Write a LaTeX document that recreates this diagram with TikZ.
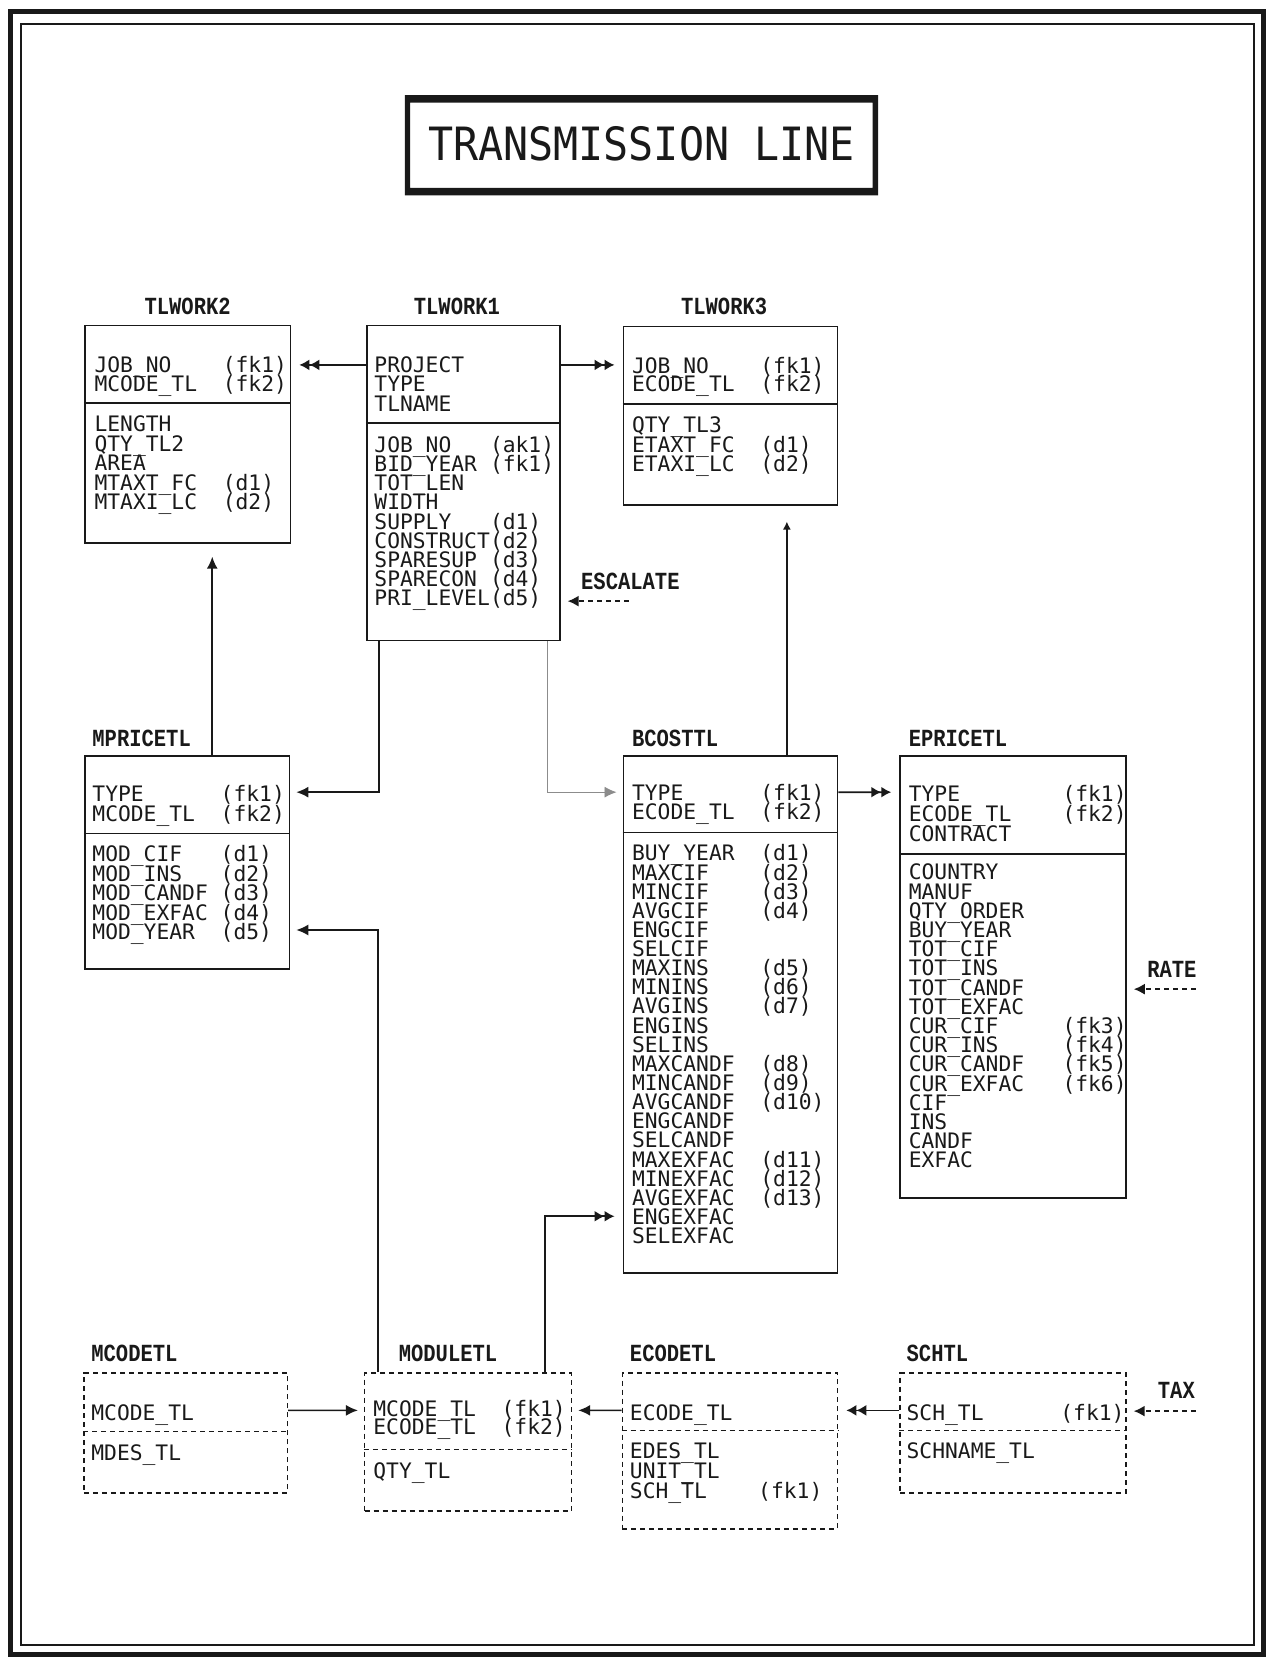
\documentclass[tikz,border=0pt]{standalone}
\usepackage{fontspec}
\usepackage{graphicx}
\usetikzlibrary{arrows.meta,calc,fit}
\newfontfamily\rowfnt{DejaVu Sans Mono}
\newfontfamily\lblfnt{Liberation Mono}
\colorlet{ink}{black!90}
\newcommand\fieldrows[6]{%
  \foreach \nm/\tg [count=\i from 0] in {#6}{%
    \node[rowtxt] (#1n\i) at (#2,{#4+\i*#5}) {\nm};
    \node[rowtxt] (#1t\i) at (#3,{#4+\i*#5}) {\tg};
  }}
\begin{document}
\begin{tikzpicture}[x=1.0602pt,y=-1.0602pt,
  ebox/.style={draw=ink, line width=1.7pt, inner sep=0pt},
  dbox/.style={draw=ink, line width=1.5pt, dash pattern=on 5pt off 4pt, inner sep=0pt},
  rowtxt/.style={anchor=base west, inner sep=0pt, text=ink, font=\rowfnt\fontsize{21.3}{21}\selectfont},
  lbl/.style={inner sep=0pt, anchor=base west, text=ink, font=\lblfnt\bfseries\fontsize{20.5}{20}\selectfont},
  conn/.style={draw=ink, line width=1.7pt},
  one/.style={conn, -{Latex[length=12pt,width=11pt]}, shorten >=6pt},
  two/.style={conn, -{Latex[length=10pt,width=11pt] Latex[length=10pt,width=11pt]}, shorten >=8pt},
  up/.style={conn, -{Latex[length=12pt,width=11pt]}, shorten >=13pt},
  ext/.style={conn, dash pattern=on 5pt off 4pt, -{Latex[length=11pt,width=11pt]}, shorten >=7pt}
]
\useasboundingbox (0,0) rectangle (1196,1568.6);
% frame
\draw[ink, line width=5pt] (10,11) rectangle (1192,1561);
\draw[ink, line width=2pt] (20,23) rectangle (1183,1552);
% title
\node[fit={(382,90) (828,184)}, inner sep=0pt] (tbox) {};
\fill[ink, even odd rule] (tbox.north west) rectangle (tbox.south east)
  ($(tbox.north west)+(5,7)$) rectangle ($(tbox.south east)+(-5,-7)$);
\node[inner sep=0pt, text=ink, font=\rowfnt\fontsize{41.7}{42}\selectfont] (title) at (605,136) {\scalebox{1}[1.1]{TRANSMISSION LINE}};

% boxes
\node[ebox, fit={(80,307) (274,512)}] (tlw2) {};
\node[ebox, fit={(346,307) (528,604)}] (tlw1) {};
\node[ebox, fit={(588,308) (790,476)}] (tlw3) {};
\node[ebox, fit={(80,713) (273,914)}] (mpr) {};
\node[ebox, fit={(588,713) (790,1201)}] (bco) {};
\node[ebox, fit={(849,713) (1062,1130)}] (epr) {};
\node[dbox, fit={(79,1295) (271,1408)}] (mcd) {};
\node[dbox, fit={(344,1295) (539,1425)}] (mod) {};
\node[dbox, fit={(587,1295) (790,1442)}] (ecd) {};
\node[dbox, fit={(849,1295) (1062,1408)}] (sch) {};

% dividers
\draw[ink, line width=1.7pt] ($(tlw2.north west)+(0,74)$) -- ($(tlw2.north east)+(0,74)$);
\draw[ink, line width=1.7pt] ($(tlw1.north west)+(0,93)$) -- ($(tlw1.north east)+(0,93)$);
\draw[ink, line width=1.7pt] ($(tlw3.north west)+(0,74)$) -- ($(tlw3.north east)+(0,74)$);
\draw[ink, line width=1.7pt] ($(mpr.north west)+(0,74)$) -- ($(mpr.north east)+(0,74)$);
\draw[ink, line width=1.7pt] ($(bco.north west)+(0,73)$) -- ($(bco.north east)+(0,73)$);
\draw[ink, line width=1.7pt] ($(epr.north west)+(0,93)$) -- ($(epr.north east)+(0,93)$);
\draw[ink, line width=1.5pt, dash pattern=on 5pt off 4pt] ($(mcd.north west)+(0,56)$) -- ($(mcd.north east)+(0,56)$);
\draw[ink, line width=1.5pt, dash pattern=on 5pt off 4pt] ($(mod.north west)+(0,73)$) -- ($(mod.north east)+(0,73)$);
\draw[ink, line width=1.5pt, dash pattern=on 5pt off 4pt] ($(ecd.north west)+(0,55)$) -- ($(ecd.north east)+(0,55)$);
\draw[ink, line width=1.5pt, dash pattern=on 5pt off 4pt] ($(sch.north west)+(0,55)$) -- ($(sch.north east)+(0,55)$);

% labels
\node[lbl, anchor=base] (ltlw2) at (177,297) {\scalebox{1}[1.2]{TLWORK2}};
\node[lbl, anchor=base] (ltlw1) at (431,297) {\scalebox{1}[1.2]{TLWORK1}};
\node[lbl, anchor=base] (ltlw3) at (683,297) {\scalebox{1}[1.2]{TLWORK3}};
\node[lbl] (lmpr) at (87,704) {\scalebox{1}[1.2]{MPRICETL}};
\node[lbl] (lbco) at (596,704) {\scalebox{1}[1.2]{BCOSTTL}};
\node[lbl] (lepr) at (857,704) {\scalebox{1}[1.2]{EPRICETL}};
\node[lbl] (lmcd) at (86,1284) {\scalebox{1}[1.2]{MCODETL}};
\node[lbl] (lmod) at (376,1284) {\scalebox{1}[1.2]{MODULETL}};
\node[lbl] (lecd) at (594,1284) {\scalebox{1}[1.2]{ECODETL}};
\node[lbl] (lsch) at (855,1284) {\scalebox{1}[1.2]{SCHTL}};
\node[lbl] (lesc) at (548,556) {\scalebox{1}[1.2]{ESCALATE}};
\node[lbl] (lrate) at (1082,922) {\scalebox{1}[1.2]{RATE}};
\node[lbl] (ltax) at (1092,1319) {\scalebox{1}[1.2]{TAX}};

% rows
\fieldrows{wa}{89}{210}{351}{18}{JOB\_NO/(fk1), MCODE\_TL/(fk2)}
\fieldrows{wb}{89}{210}{407}{18.5}{LENGTH/{}, QTY\_TL2/{}, AREA/{}, MTAXT\_FC/(d1), MTAXI\_LC/(d2)}
\fieldrows{va}{353}{462}{351}{18.5}{PROJECT/{}, TYPE/{}, TLNAME/{}}
\fieldrows{vb}{353}{462}{427}{18}{JOB\_NO/(ak1), BID\_YEAR/(fk1), TOT\_LEN/{}, WIDTH/{}, SUPPLY/(d1), CONSTRUCT/(d2), SPARESUP/(d3), SPARECON/(d4), PRI\_LEVEL/(d5)}
\fieldrows{ua}{596}{717}{352}{17.5}{JOB\_NO/(fk1), ECODE\_TL/(fk2)}
\fieldrows{ub}{596}{717}{408}{18.5}{QTY\_TL3/{}, ETAXT\_FC/(d1), ETAXI\_LC/(d2)}
\fieldrows{pa}{87}{208}{756}{18.5}{TYPE/(fk1), MCODE\_TL/(fk2)}
\fieldrows{pb}{87}{208}{813}{18.4}{MOD\_CIF/(d1), MOD\_INS/(d2), MOD\_CANDF/(d3), MOD\_EXFAC/(d4), MOD\_YEAR/(d5)}
\fieldrows{ba}{596}{717}{755}{18}{TYPE/(fk1), ECODE\_TL/(fk2)}
\fieldrows{bb}{596}{717}{812}{18.05}{BUY\_YEAR/(d1), MAXCIF/(d2), MINCIF/(d3), AVGCIF/(d4), ENGCIF/{}, SELCIF/{}, MAXINS/(d5), MININS/(d6), AVGINS/(d7), ENGINS/{}, SELINS/{}, MAXCANDF/(d8), MINCANDF/(d9), AVGCANDF/(d10), ENGCANDF/{}, SELCANDF/{}, MAXEXFAC/(d11), MINEXFAC/(d12), AVGEXFAC/(d13), ENGEXFAC/{}, SELEXFAC/{}}
\fieldrows{ea}{857}{1002}{756}{19}{TYPE/(fk1), ECODE\_TL/(fk2), CONTRACT/{}}
\fieldrows{eb}{857}{1002}{830}{18.1}{COUNTRY/{}, MANUF/{}, QTY\_ORDER/{}, BUY\_YEAR/{}, TOT\_CIF/{}, TOT\_INS/{}, TOT\_CANDF/{}, TOT\_EXFAC/{}, CUR\_CIF/(fk3), CUR\_INS/(fk4), CUR\_CANDF/(fk5), CUR\_EXFAC/(fk6), CIF/{}, INS/{}, CANDF/{}, EXFAC/{}}
\fieldrows{ma}{86}{207}{1340}{18}{MCODE\_TL/{}}
\fieldrows{mb}{86}{207}{1378}{18}{MDES\_TL/{}}
\fieldrows{da}{352}{473}{1336}{17.5}{MCODE\_TL/(fk1), ECODE\_TL/(fk2)}
\fieldrows{db}{352}{473}{1395}{18}{QTY\_TL/{}}
\fieldrows{ca}{594}{715}{1340}{18}{ECODE\_TL/{}}
\fieldrows{cb}{594}{715}{1376}{18.5}{EDES\_TL/{}, UNIT\_TL/{}, SCH\_TL/(fk1)}
\fieldrows{sa}{855}{1000}{1340}{18}{SCH\_TL/(fk1)}
\fieldrows{sb}{855}{1000}{1376}{18}{SCHNAME\_TL/{}}

% connectors
\draw[two] ($(tlw1.north west)+(0,38)$) -- ($(tlw2.north east)+(0,38)$);
\draw[two] ($(tlw1.north east)+(0,38)$) -- ($(tlw3.north west)+(0,37)$);
\draw[one] ($(tlw1.south west)+(12,0)$) |- ($(mpr.north east)+(0,35)$);
\draw[one, draw=black!45, line width=0.9pt] ($(tlw1.south east)+(-12,0)$) |- ($(bco.north west)+(0,35)$);
\draw[up] ($(mpr.north west)+(121,0)$) -- ($(tlw2.south west)+(121,0)$);
\draw[conn, -{Latex[length=8pt,width=8pt]}, shorten >=16pt] ($(bco.north west)+(155,0)$) -- ($(tlw3.south west)+(155,0)$);
\draw[two] ($(bco.north east)+(0,35)$) -- ($(epr.north west)+(0,35)$);
\draw[one] ($(mod.north west)+(13,0)$) |- ($(mpr.north east)+(0,165)$);
\draw[two] ($(mod.north west)+(171,0)$) |- ($(bco.north west)+(0,435)$);
\draw[one] ($(mcd.north east)+(0,36)$) -- ($(mod.north west)+(0,36)$);
\draw[one] ($(ecd.north west)+(0,36)$) -- ($(mod.north east)+(0,36)$);
\draw[two] ($(sch.north west)+(0,36)$) -- ($(ecd.north east)+(0,36)$);
\coordinate (escT) at (593,567);
\draw[ext] (escT) -- (escT -| tlw1.east);
\coordinate (rateT) at (1128,933);
\draw[ext] (rateT) -- (rateT -| epr.east);
\coordinate (taxT) at (1128,1331);
\draw[ext] (taxT) -- (taxT -| sch.east);
\end{tikzpicture}
\end{document}
